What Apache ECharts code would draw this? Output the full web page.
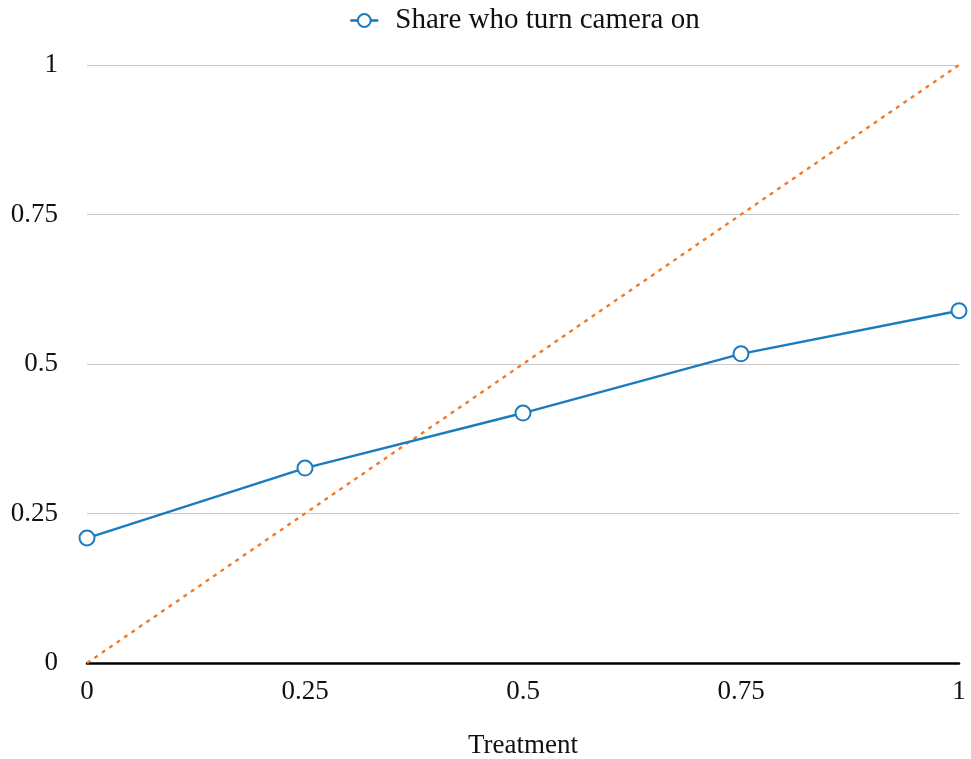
<!DOCTYPE html>
<html><head><meta charset="utf-8">
<script src="https://cdn.jsdelivr.net/npm/echarts@6/dist/echarts.min.js"></script>
<style>html,body{margin:0;padding:0;background:#fff}#c{width:971px;height:759px}</style>
</head><body><div id="c"></div>
<script>
const treatment = [0, 0.25, 0.5, 0.75, 1];
const shareCameraOn = [0.209, 0.326, 0.418, 0.517, 0.589];
const diagonalX = [0, 1];
const diagonalY = [0, 1];
const seriesName = 'Share who turn camera on';
const xAxisName = 'Treatment';

const font = "'Palatino Linotype', Palatino, 'Liberation Serif', serif";
const blue = '#1a7bbd';
const chart = echarts.init(document.getElementById('c'), null, {renderer: 'canvas'});
chart.setOption({
  animation: false,
  textStyle: {fontFamily: font},
  legend: {
    top: 1, left: 344,
    data: [seriesName],
    itemWidth: 28, itemHeight: 16,
    itemStyle: {borderWidth: 2.6},
    lineStyle: {width: 2.6},
    textStyle: {fontFamily: font, fontSize: 29, color: '#111', padding: [0, 0, 0, 12]}
  },
  grid: {left: 87, right: 12, top: 65, bottom: 96, containLabel: false, outerBoundsMode: 'none'},
  xAxis: {
    type: 'value', min: 0, max: 1, interval: 0.25,
    name: xAxisName, nameLocation: 'middle', nameGap: 69,
    nameTextStyle: {fontFamily: font, fontSize: 27, color: '#111'},
    axisLine: {show: true, onZero: true, lineStyle: {color: '#000', width: 2.5}},
    axisTick: {show: false},
    splitLine: {show: false},
    axisLabel: {fontFamily: font, fontSize: 27, color: '#111', margin: 15}
  },
  yAxis: {
    type: 'value', min: 0, max: 1, interval: 0.25,
    axisLine: {show: false},
    axisTick: {show: false},
    splitLine: {show: true, lineStyle: {color: '#c8c8c8', width: 1}},
    axisLabel: {fontFamily: font, fontSize: 27, color: '#111', margin: 29}
  },
  series: [
    {
      name: 'diag', type: 'line', silent: true,
      data: diagonalX.map((x, i) => [x, diagonalY[i]]),
      showSymbol: false, symbol: 'none',
      lineStyle: {color: '#f07b27', width: 2.4, type: [4, 5]},
      z: 1
    },
    {
      name: seriesName, type: 'line',
      data: treatment.map((x, i) => [x, shareCameraOn[i]]),
      symbol: 'emptyCircle', symbolSize: 15,
      itemStyle: {color: blue, borderWidth: 2.4},
      lineStyle: {color: blue, width: 2.4},
      z: 3
    }
  ]
});
</script></body></html>
